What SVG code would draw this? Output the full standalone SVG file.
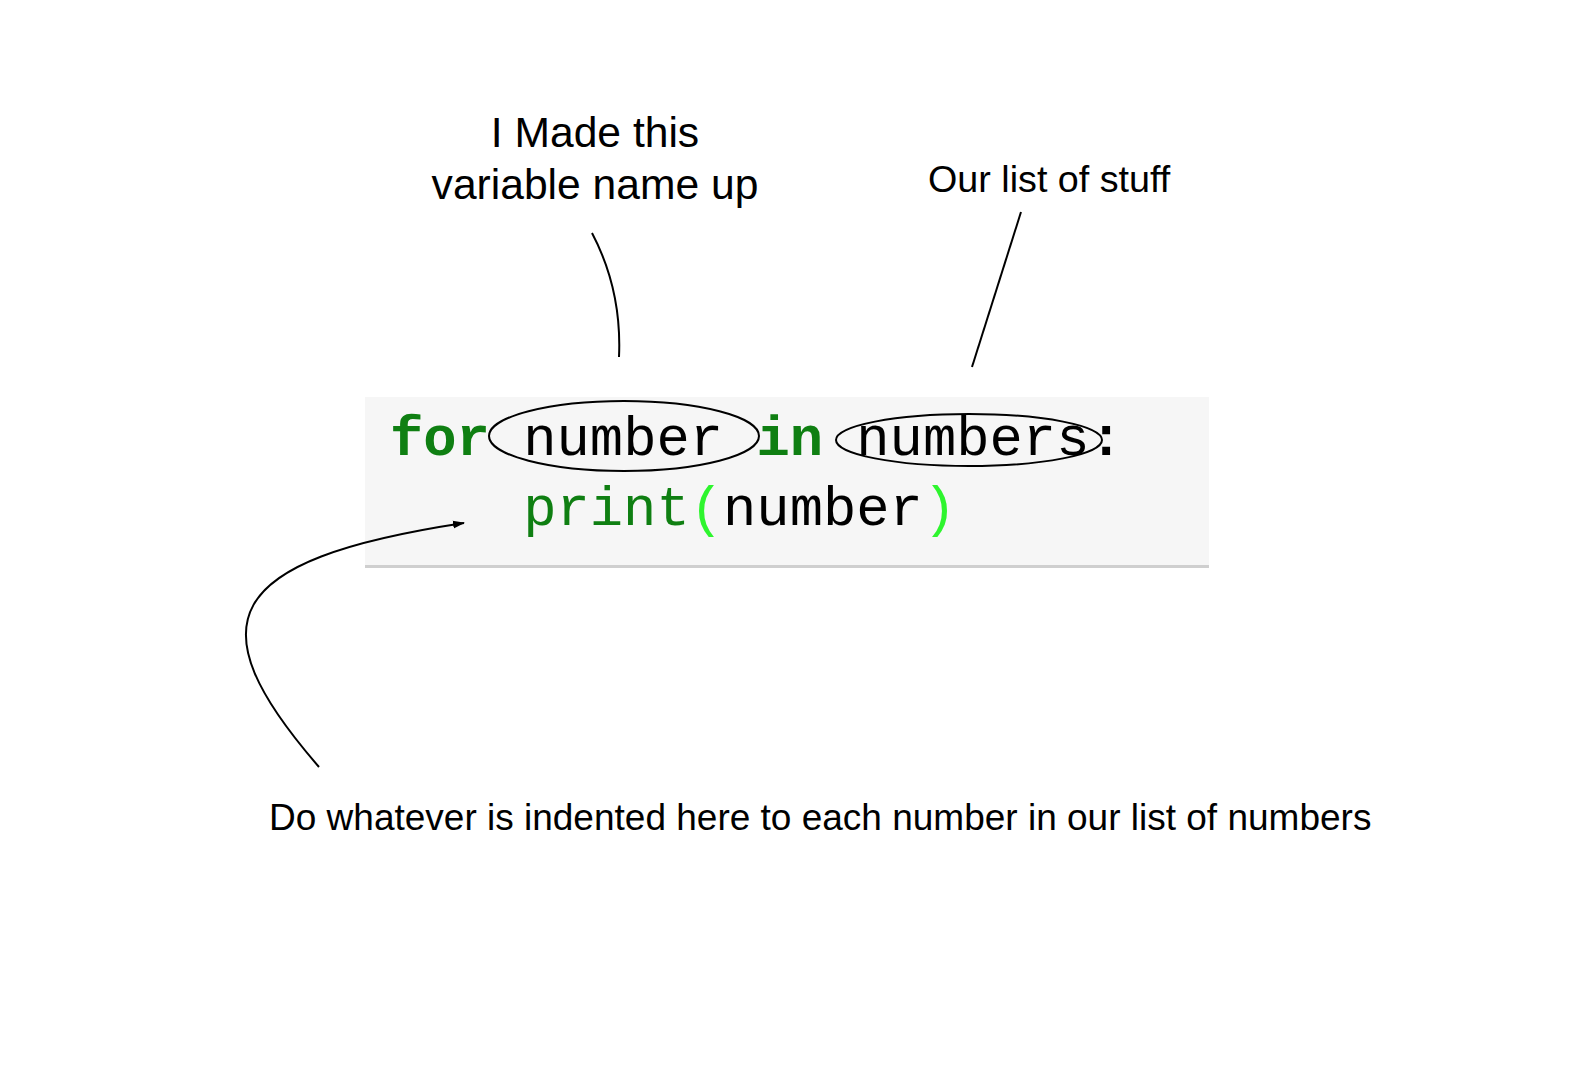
<svg xmlns="http://www.w3.org/2000/svg" width="1576" height="1080" viewBox="0 0 1576 1080">
<style>
.lbl{font-family:"Liberation Sans",Arial,Helvetica,sans-serif;fill:#000}
.code{font-family:"Liberation Mono","Courier New",monospace;font-size:55.5px;white-space:pre}
.kw{fill:#0f7f12;font-weight:bold}
.nm{fill:#000}
.bi{fill:#0f7f12}
.par{fill:#2ef52e}
.conn{fill:none;stroke:#000;stroke-width:2}
.oval{fill:none;stroke:#000;stroke-width:2}
</style>
<defs>
<marker id="arr" viewBox="0 0 12 10" refX="11" refY="5" markerWidth="12" markerHeight="10" markerUnits="userSpaceOnUse" orient="auto">
<path d="M0,1 L12,5 L0,9 Z" fill="#000"/>
</marker>
</defs>
<rect width="1576" height="1080" fill="#fff"/>
<g id="code-block">
<rect x="365" y="397" width="844" height="168" fill="#f6f6f6"/>
<rect x="365" y="565" width="844" height="3" fill="#cfcfcf"/>
<text class="code" x="390" y="455"><tspan class="kw">for</tspan><tspan class="nm"> number </tspan><tspan class="kw">in</tspan><tspan class="nm"> numbers</tspan><tspan class="nm" font-weight="bold">:</tspan></text>
<text class="code" x="523.2" y="525"><tspan class="bi">print</tspan><tspan class="par">(</tspan><tspan class="nm">number</tspan><tspan class="par">)</tspan></text>
</g>
<g id="oval-number"><ellipse class="oval" cx="624" cy="436" rx="135" ry="35"/></g>
<g id="oval-numbers"><ellipse class="oval" cx="969" cy="440" rx="133" ry="26"/></g>
<g id="label-variable">
<text class="lbl" font-size="42.6" text-anchor="middle" x="595" y="147">I Made this</text>
<text class="lbl" font-size="42.6" text-anchor="middle" x="595" y="199">variable name up</text>
</g>
<g id="label-list">
<text class="lbl" font-size="37.7" x="928" y="192">Our list of stuff</text>
</g>
<g id="label-indent">
<text class="lbl" font-size="37" x="269" y="830">Do whatever is indented here to each number in our list of numbers</text>
</g>
<g id="connectors">
<path class="conn" d="M592,233 Q622,290 619,357"/>
<path class="conn" d="M1021,212 L972,367"/>
<path class="conn" d="M319,767 C194,623 221,560 464,523" marker-end="url(#arr)"/>
</g>
</svg>
